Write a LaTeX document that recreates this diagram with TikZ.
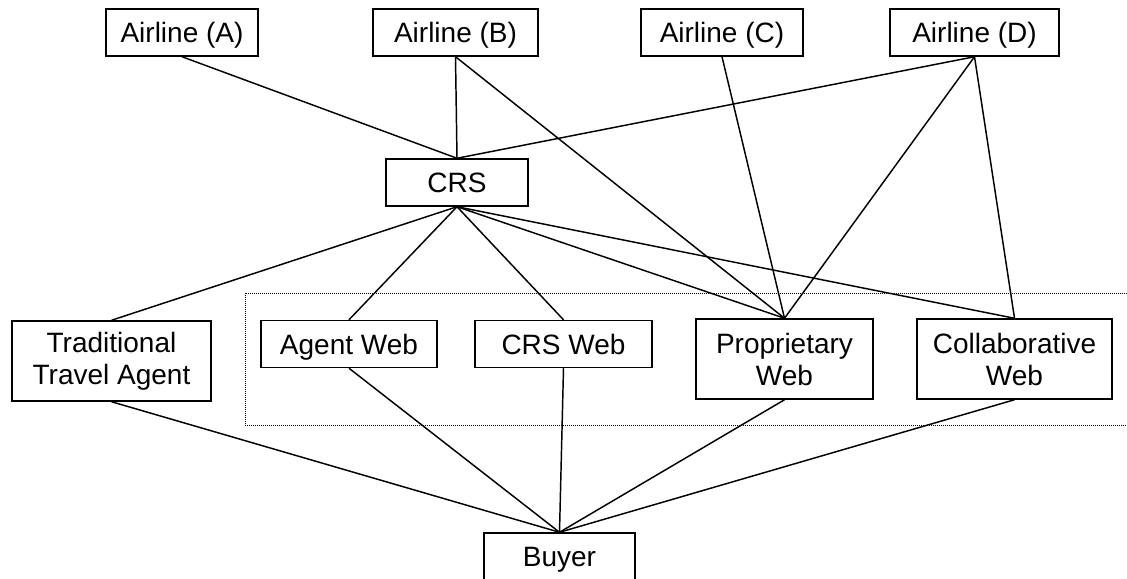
\documentclass[tikz,border=0pt]{standalone}
\usepackage{fontspec}
\setmainfont{Liberation Sans}
\usetikzlibrary{positioning}

\begin{document}
\begin{tikzpicture}[
    x=0.75pt, y=-0.75pt,
    font=\fontsize{21}{24}\selectfont,
    boxbase/.style={draw, line width=1.1pt, rectangle, align=center, inner sep=0pt},
    box/.style={boxbase, minimum height=35.25pt, text height=15pt, text depth=0pt},
    tallbox/.style={boxbase, minimum height=60pt},
    link/.style={line width=1.1pt}
  ]

    % page size of the reference
    \useasboundingbox (0,0) rectangle (1127,578);

    % airlines
    \node [box, minimum width=114pt]    (airA) at (182,32.5)   {Airline (A)};
    \node [box, minimum width=123.75pt] (airB) at (455.5,32.5) {Airline (B)};
    \node [box, minimum width=121.5pt]  (airC) at (722,32.5)   {Airline (C)};
    \node [box, minimum width=126.75pt] (airD) at (974.5,32.5) {Airline (D)};

    \node [box, minimum width=106.5pt] (crs) at (457,182.5) {CRS};

    % web channels sit inside the dotted frame
    \draw [line width=0.75pt, dash pattern=on 0.75pt off 0.75pt]
      (245,293) rectangle (1132,425);

    \node [tallbox, minimum width=149.25pt] (trad) at (111.5,361)
      {Traditional\\Travel Agent};
    \node [box, minimum width=132pt]    (agentweb) at (349,344)   {Agent Web};
    \node [box, minimum width=132.75pt] (crsweb)   at (563.5,344) {CRS Web};
    \node [tallbox, minimum width=132.75pt] (propweb) at (784.5,359)
      {Proprietary\\Web};
    \node [tallbox, minimum width=146.25pt] (collabweb) at (1014.5,359)
      {Collaborative\\Web};

    \node [box, minimum width=113.25pt] (buyer) at (559.5,556.5) {Buyer};

    % airlines to channels
    \draw [link] (airA.south) -- (crs.north);
    \draw [link] (airB.south) -- (crs.north);
    \draw [link] (airB.south) -- (propweb.north);
    \draw [link] (airC.south) -- (propweb.north);
    \draw [link] (airD.south) -- (crs.north);
    \draw [link] (airD.south) -- (propweb.north);
    \draw [link] (airD.south) -- (collabweb.north);

    % CRS to sellers
    \foreach \n in {trad, agentweb, crsweb, propweb, collabweb}
      \draw [link] (crs.south) -- (\n.north);

    % sellers to buyer
    \foreach \n in {trad, agentweb, crsweb, propweb, collabweb}
      \draw [link] (\n.south) -- (buyer.north);

  \end{tikzpicture}
\end{document}
